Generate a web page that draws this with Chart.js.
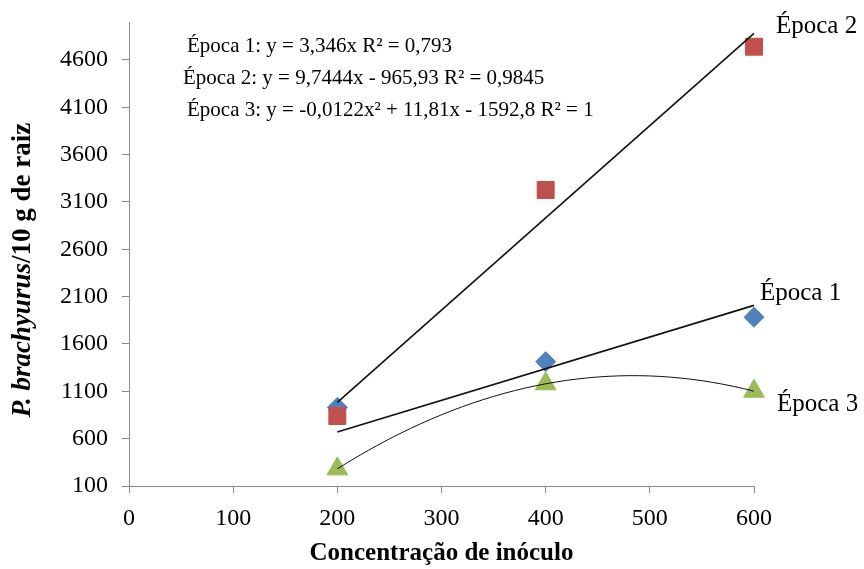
<!DOCTYPE html>
<html>
<head>
<meta charset="utf-8">
<script src="https://cdn.jsdelivr.net/npm/chart.js@4"></script>
<style>
  html, body { margin: 0; padding: 0; background: #fff; }
</style>
</head>
<body>
<canvas id="myChart" width="864" height="569"></canvas>
<script>
// dados
var doses = [200, 400, 600]
var epoca1 = [930, 1413, 1882]
var epoca2 = [839, 3226, 4739]
var epoca3 = [281, 1179, 1101]
var yTicks = [100, 600, 1100, 1600, 2100, 2600, 3100, 3600, 4100, 4600]
var xTicks = [0, 100, 200, 300, 400, 500, 600]

// coeficientes das linhas de tendencia (equacoes do grafico)
var coef1 = [0, 3.346]            // a + b x
var coef2 = [-965.93, 9.7444]
var coef3 = [-1592.8, 11.81, -0.0122]  // a + b x + c x^2

var equacoes = [
  'Época 1: y = 3,346x R² = 0,793',
  'Época 2: y = 9,7444x - 965,93 R² = 0,9845',
  'Época 3: y = -0,0122x² + 11,81x - 1592,8 R² = 1'
]
var rotulos = ['Época 1', 'Época 2', 'Época 3']

function pontos(ys){
  return doses.map((x, i) => ({x: x, y: ys[i]}))
}
function tendencia(c, xs){
  return xs.map(x => ({x: x, y: c[0] + c[1]*x + (c[2] || 0)*x*x}))
}
var xsCurva = []
for (var x = 200; x <= 600; x += 10) xsCurva.push(x)

var serif = "'Liberation Serif', 'Times New Roman', serif"

var textos = {
  id: 'textos',
  afterDraw(chart){
    const ctx = chart.ctx
    const xs = chart.scales.x, ys = chart.scales.y
    ctx.save()
    ctx.fillStyle = '#000'
    ctx.textBaseline = 'middle'
    // equacoes
    ctx.font = '21px ' + serif
    ctx.textAlign = 'left'
    ctx.fillText(equacoes[0], 187, 46)
    ctx.fillText(equacoes[1], 183, 78)
    ctx.fillText(equacoes[2], 187, 110)
    // rotulos das series
    ctx.font = '25px ' + serif
    const x600 = xs.getPixelForValue(600)
    ctx.fillText(rotulos[1], x600 + 22, ys.getPixelForValue(4739) - 20)
    ctx.fillText(rotulos[0], x600 + 6, ys.getPixelForValue(1882) - 24)
    ctx.fillText(rotulos[2], x600 + 23, ys.getPixelForValue(1101) + 13)
    // titulo eixo y (parte em italico)
    ctx.translate(23, 270)
    ctx.rotate(-Math.PI/2)
    const p1 = 'P. brachyurus', p2 = '/10 g de raiz'
    const f1 = 'italic bold 27px ' + serif, f2 = 'bold 27px ' + serif
    ctx.font = f1
    const w1 = ctx.measureText(p1).width
    ctx.font = f2
    const w2 = ctx.measureText(p2).width
    let x0 = -(w1 + w2)/2
    ctx.font = f1
    ctx.fillText(p1, x0, 0)
    ctx.font = f2
    ctx.fillText(p2, x0 + w1, 0)
    ctx.restore()
  }
}

const ctx = document.getElementById('myChart')
new Chart(ctx, {
  type: 'scatter',
  data: {
    datasets: [
      {label: 'Tend 1', data: tendencia(coef1, [200, 600]), showLine: true, borderColor: '#111', borderWidth: 1.6, pointRadius: 0, order: 0, clip: false},
      {label: 'Tend 2', data: tendencia(coef2, [200, 600]), showLine: true, borderColor: '#111', borderWidth: 1.6, pointRadius: 0, order: 0, clip: false},
      {label: 'Tend 3', data: tendencia(coef3, xsCurva), showLine: true, borderColor: '#111', borderWidth: 1, pointRadius: 0, order: 0, clip: false},
      {label: 'Época 3', data: pontos(epoca3), pointStyle: 'triangle', pointRadius: 12, backgroundColor: '#9BBB59', borderColor: '#9BBB59', order: 1, clip: false},
      {label: 'Época 2', data: pontos(epoca2), pointStyle: 'rect', pointRadius: 12, backgroundColor: '#C0504D', borderColor: '#C0504D', order: 2, clip: false},
      {label: 'Época 1', data: pontos(epoca1), pointStyle: 'rectRot', pointRadius: 10, backgroundColor: '#4F81BD', borderColor: '#4F81BD', order: 3, clip: false}
    ]
  },
  options: {
    responsive: false,
    animation: false,
    devicePixelRatio: 1,
    layout: {padding: {left: 0, right: 110, top: 22, bottom: 0}},
    plugins: {legend: {display: false}, tooltip: {enabled: false}},
    scales: {
      x: {
        type: 'linear', min: 0, max: 600,
        afterBuildTicks: s => { s.ticks = xTicks.map(v => ({value: v})) },
        afterFit: s => { s.height = 83; s.paddingLeft = 0; s.paddingRight = 0 },
        grid: {drawOnChartArea: false, drawTicks: true, tickLength: 7, color: '#8c8c8c'},
        border: {color: '#8c8c8c', width: 1},
        ticks: {color: '#000', font: {family: serif, size: 24}, padding: 11, maxRotation: 0, callback: v => String(v)},
        title: {display: true, text: 'Concentração de inóculo', color: '#000', font: {family: serif, size: 25, weight: 'bold'}, padding: {top: 0, bottom: 0}}
      },
      y: {
        type: 'linear', min: 100, max: 5000,
        afterBuildTicks: s => { s.ticks = yTicks.map(v => ({value: v})) },
        afterFit: s => { s.width = 129; s.paddingTop = 0; s.paddingBottom = 0 },
        grid: {drawOnChartArea: false, drawTicks: true, tickLength: 7, color: '#8c8c8c'},
        border: {color: '#8c8c8c', width: 1},
        ticks: {color: '#000', font: {family: serif, size: 24}, padding: 14, callback: v => String(v)}
      }
    }
  },
  plugins: [textos]
})
</script>
</body>
</html>
